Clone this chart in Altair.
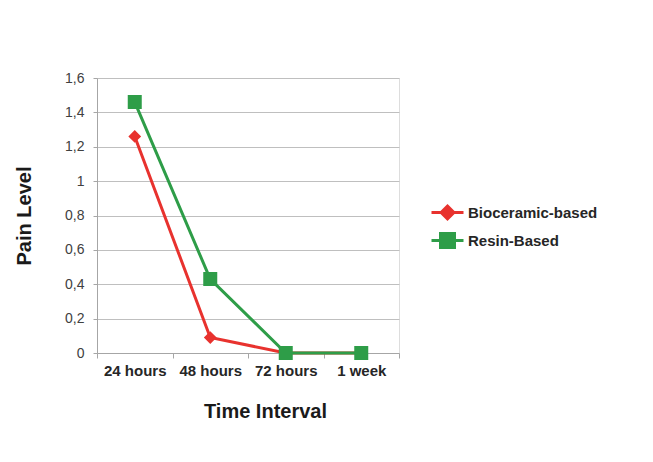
import altair as alt
import pandas as pd

intervals = ["24 hours", "48 hours", "72 hours", "1 week"]
series_names = ["Bioceramic-based", "Resin-Based"]
bioceramic = [1.26, 0.09, 0.0, 0.0]
resin = [1.46, 0.43, 0.0, 0.0]
y_ticks = [0, 0.2, 0.4, 0.6, 0.8, 1.0, 1.2, 1.4, 1.6]
colors = ["#e8322e", "#2e9d48"]

rows = []
for name, vals in zip(series_names, [bioceramic, resin]):
    for i, (t, v) in enumerate(zip(intervals, vals)):
        rows.append({"Time": t, "idx": i, "Series": name, "Pain": v})
df = pd.DataFrame(rows)

FONT = "Liberation Sans"
# marker shapes with a zero-area line segment that only shows (stroked) in the legend
diamond_path = "M-2,0L2,0M0,-0.8L0.8,0L0,0.8L-0.8,0Z"
square_path = "M-2,0L2,0M-0.875,-0.875L0.875,-0.875L0.875,0.875L-0.875,0.875Z"

x_enc = alt.X("Time:N", sort=intervals,
              scale=alt.Scale(paddingInner=0, paddingOuter=0),
              axis=alt.Axis(title="Time Interval", labelAngle=0, tickBand="extent",
                            grid=False, domainColor="#a6a6a6", tickColor="#a6a6a6",
                            tickSize=5, labelPadding=5, labelFont=FONT, labelFontSize=15,
                            labelFontWeight="bold", labelColor="#262626",
                            titleFont=FONT, titleFontSize=20, titleFontWeight="bold",
                            titleColor="#1a1a1a", titleX=168, titleY=48))
y_enc = alt.Y("Pain:Q", scale=alt.Scale(domain=[0, 1.6]),
              axis=alt.Axis(title="Pain Level", values=y_ticks,
                            labelExpr="replace(format(datum.value, '~g'), '.', ',')",
                            gridColor="#bfbfbf", domainColor="#a6a6a6", tickColor="#a6a6a6",
                            tickSize=4, labelPadding=9, labelFont=FONT, labelFontSize=14,
                            labelColor="#404040", titleFont=FONT, titleFontSize=20,
                            titleFontWeight="bold", titleColor="#1a1a1a", titleX=-63))

color_scale = alt.Scale(domain=series_names, range=colors)

legend = alt.Legend(
    title=None, orient="none", legendX=341, legendY=125, padding=0,
    labelFont=FONT, labelFontSize=15, labelFontWeight="bold", labelColor="#262626",
    labelOffset=11, rowPadding=2, symbolSize=256, symbolStrokeWidth=3,
    symbolOpacity=1,
)

lines = alt.Chart(df).mark_line(strokeWidth=3).encode(
    x=x_enc, y=y_enc,
    color=alt.Color("Series:N", scale=color_scale, sort=series_names, legend=legend),
    order=alt.Order("idx:Q"),
)

points = alt.Chart(df).mark_point(filled=True, opacity=1, size=256, strokeWidth=0).encode(
    x=x_enc, y=y_enc,
    color=alt.Color("Series:N", scale=color_scale, sort=series_names, legend=legend),
    stroke=alt.Stroke("Series:N", scale=color_scale, sort=series_names, legend=legend),
    shape=alt.Shape("Series:N", scale=alt.Scale(domain=series_names, range=[diamond_path, square_path]),
                    sort=series_names, legend=legend),
)

chart = alt.layer(lines, points).properties(
    width=302, height=275,
    autosize=alt.AutoSizeParams(type="none"),
    padding={"left": 89, "top": 70, "right": 246, "bottom": 100},
).configure_view(stroke=None).configure(background="white")

chart.save("out.html", embed_options={"renderer": "svg", "actions": False})
